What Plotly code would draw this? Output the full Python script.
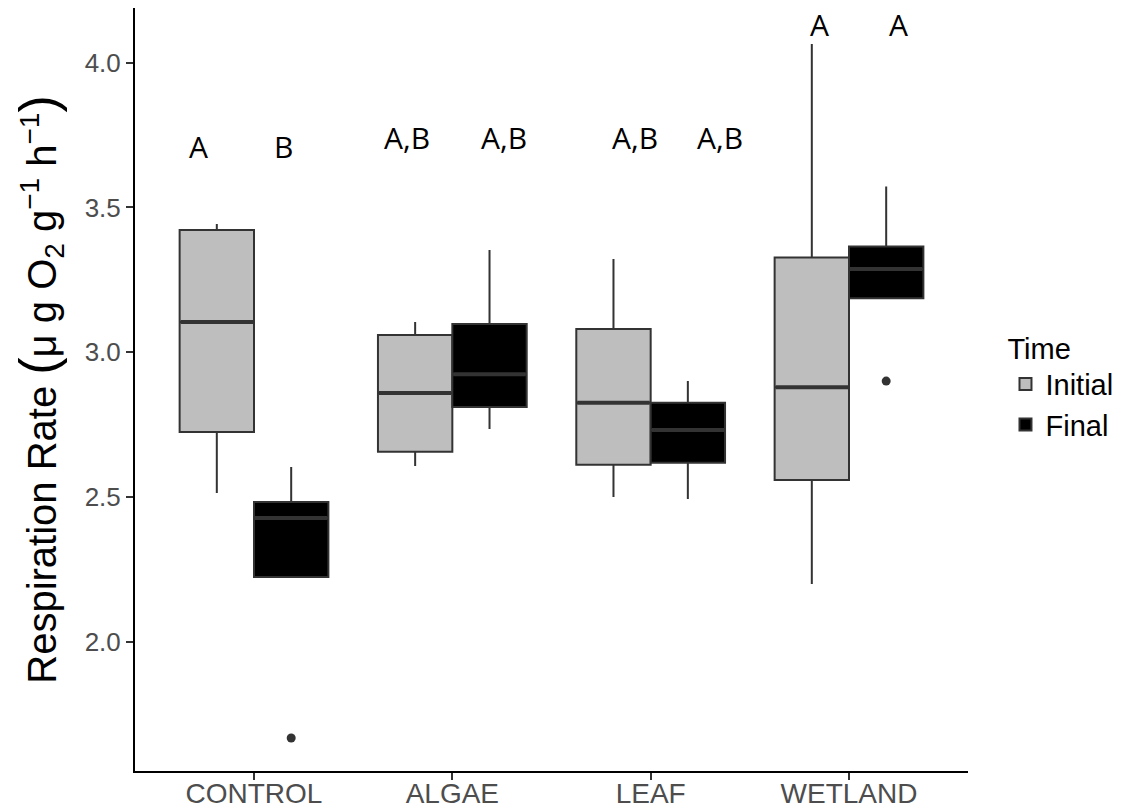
import plotly.graph_objects as go

# Treatments on the x axis and the two sampling times
treatments = ["CONTROL", "ALGAE", "LEAF", "WETLAND"]
times = ["Initial", "Final"]

# Box summary statistics (ug O2 per g per h), one value per treatment
stats = {
    "Initial": {
        "lower":  [2.515, 2.608, 2.501, 2.201],
        "q1":     [2.725, 2.657, 2.612, 2.560],
        "median": [3.105, 2.860, 2.826, 2.880],
        "q3":     [3.422, 3.060, 3.081, 3.327],
        "upper":  [3.443, 3.105, 3.322, 4.064],
    },
    "Final": {
        "lower":  [2.225, 2.736, 2.494, 3.187],
        "q1":     [2.225, 2.812, 2.619, 3.187],
        "median": [2.429, 2.925, 2.732, 3.288],
        "q3":     [2.484, 3.098, 2.826, 3.365],
        "upper":  [2.605, 3.353, 2.901, 3.572],
    },
}

# Outlying observations: (treatment, time, value)
outlier_treatment = ["CONTROL", "WETLAND"]
outlier_time = ["Final", "Final"]
outlier_value = [1.670, 2.901]

# Significance letters above each box
letters = {
    "Initial": ["A", "A,B", "A,B", "A"],
    "Final":   ["B", "A,B", "A,B", "A"],
}
letter_y = {
    "Initial": [3.71, 3.74, 3.74, 4.13],
    "Final":   [3.71, 3.74, 3.74, 4.13],
}
letter_dx = {
    "Initial": [-0.28, -0.23, -0.08, -0.15],
    "Final":   [0.15, 0.26, 0.35, 0.25],
}

fills = {"Initial": "#BEBEBE", "Final": "#000000"}
outline = "#333333"
box_w = 0.375
shift = {"Initial": -box_w / 2, "Final": box_w / 2}
pos = {t: i + 1 for i, t in enumerate(treatments)}

fig = go.Figure()

for tm in times:
    s = stats[tm]
    xs = [pos[t] + shift[tm] for t in treatments]
    fig.add_trace(go.Box(
        name=tm,
        x=xs,
        q1=s["q1"], median=s["median"], q3=s["q3"],
        lowerfence=s["lower"], upperfence=s["upper"],
        width=box_w,
        whiskerwidth=0,
        fillcolor=fills[tm],
        line=dict(color=outline, width=2),
        boxpoints=False,
        hoverinfo="skip",
    ))

# Heavier median bars, as in a ggplot boxplot
for tm in times:
    s = stats[tm]
    mx, my = [], []
    for i, t in enumerate(treatments):
        c = pos[t] + shift[tm]
        mx += [c - box_w / 2 + 0.005, c + box_w / 2 - 0.005, None]
        my += [s["median"][i], s["median"][i], None]
    fig.add_trace(go.Scatter(
        x=mx, y=my, mode="lines",
        line=dict(color=outline, width=4),
        showlegend=False, hoverinfo="skip",
    ))

# Outlier points
fig.add_trace(go.Scatter(
    x=[pos[t] + shift[tm] for t, tm in zip(outlier_treatment, outlier_time)],
    y=outlier_value,
    mode="markers",
    marker=dict(color=outline, size=9),
    showlegend=False, hoverinfo="skip",
))

# Letters
for tm in times:
    for i, t in enumerate(treatments):
        fig.add_annotation(
            x=pos[t] + letter_dx[tm][i], y=letter_y[tm][i],
            text=letters[tm][i], showarrow=False,
            font=dict(family="Open Sans", size=30, color="black"),
            xanchor="center", yanchor="middle",
        )

fig.update_layout(
    width=1128, height=811,
    margin=dict(l=135, r=160, t=8, b=40),
    plot_bgcolor="white", paper_bgcolor="white",
    boxmode="overlay",
    font=dict(family="Liberation Sans, Arial", color="black"),
    legend=dict(
        title=dict(text="Time", font=dict(size=29, color="black")),
        font=dict(size=29, color="black"),
        x=1.045, y=0.59, xanchor="left", yanchor="top",
        tracegroupgap=2,
    ),
    xaxis=dict(
        range=[0.4, 4.6],
        tickvals=[1, 2, 3, 4], ticktext=treatments,
        showline=True, linecolor="black", linewidth=2,
        ticks="outside", ticklen=7, tickcolor="#333333", tickwidth=2,
        tickfont=dict(size=28, color="#4D4D4D"),
        ticklabelstandoff=-11,
        showgrid=False, zeroline=False,
        automargin=False,
    ),
    yaxis=dict(
        range=[1.556, 4.188],
        tickvals=[2.0, 2.5, 3.0, 3.5, 4.0],
        ticktext=["2.0", "2.5", "3.0", "3.5", "4.0"],
        showline=True, linecolor="black", linewidth=2,
        ticks="outside", ticklen=7, tickcolor="#333333", tickwidth=2,
        tickfont=dict(size=26, color="#4D4D4D"),
        showgrid=False, zeroline=False,
        automargin=False,
        title=dict(
            text="Respiration Rate <span style='font-size:52px'>(</span>μ g O<sub>2</sub> g<sup>−1</sup> h<sup>−1</sup><span style='font-size:52px'>)</span>",
            font=dict(size=40, color="black"),
            standoff=16,
        ),
    ),
)

fig.write_html("out.html")
